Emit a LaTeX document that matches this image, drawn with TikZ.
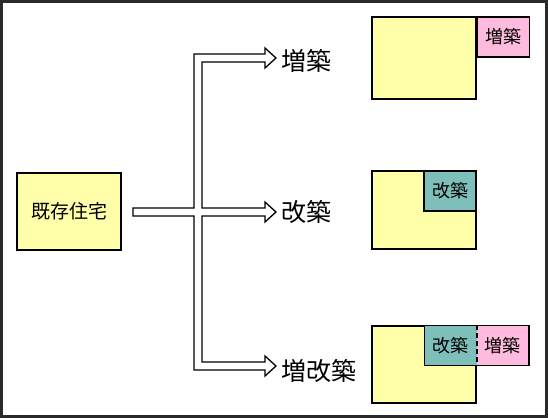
\documentclass[tikz,border=0pt]{standalone}
\usepackage{fontspec}
\setmainfont{Noto Sans CJK JP}
\usetikzlibrary{positioning}
\definecolor{baseYellow}{HTML}{FFFFAA}
\definecolor{extPink}{HTML}{FFBBDD}
\definecolor{renTeal}{HTML}{7FBFBA}
\definecolor{frameGray}{HTML}{2A2A2A}

\begin{document}
\begin{tikzpicture}[x=1pt, y=-1pt,
    boxStyle/.style={rectangle, draw, line width=1.5pt, inner sep=0pt},
    baseStyle/.style={boxStyle, fill=baseYellow, minimum width=104pt},
    partStyle/.style={rectangle, inner sep=0pt, minimum width=52pt, minimum height=40pt, font=\fontsize{18}{20}\selectfont},
    lblStyle/.style={anchor=west, inner sep=0pt, font=\fontsize{25}{28}\selectfont},
    arrowStyle/.style={draw, fill=white, line width=1.3pt, line join=miter}]

    \useasboundingbox (0,0) rectangle (548,418);
    \draw[frameGray, line width=3pt] (1.5,1.5) rectangle (546.5,416.5);

    \node[baseStyle, minimum height=77pt, font=\fontsize{19}{22}\selectfont] (house) at (69, 211.5) {既存住宅};

    \node[lblStyle] (lbl_1) at (281, 61)  {増築};
    \node[lblStyle] (lbl_2) at (281, 212) {改築};
    \node[lblStyle] (lbl_3) at (281, 371) {増改築};

    \node[baseStyle, minimum height=82pt] (base_1) at (424, 58) {};
    \node[partStyle, boxStyle, fill=extPink, anchor=north west] (ext_1) at (base_1.north east) {増築};

    \node[baseStyle, minimum height=78pt] (base_2) at (424, 210) {};
    \node[partStyle, boxStyle, fill=renTeal, anchor=north east] (ren_2) at (base_2.north east) {改築};

    \node[baseStyle, minimum height=77pt] (base_3) at (424, 364.5) {};
    \node[partStyle, fill=renTeal, anchor=north east] (ren_3) at (base_3.north east) {改築};
    \node[partStyle, fill=extPink, anchor=north west] (ext_3) at (ren_3.north east) {増築};
    \draw[line width=1.5pt] (ren_3.north west) rectangle (ext_3.south east);
    \draw[line width=1.5pt, dash pattern=on 5pt off 3pt] (ren_3.north east) -- (ren_3.south east);

    \draw[arrowStyle] (133, 208) -- (194, 208) -- (194, 54)
        -- (265, 54) -- (265, 48) -- (276, 58) -- (265, 68) -- (265, 62)
        -- (202, 62) -- (202, 208)
        -- (265, 208) -- (265, 202) -- (276, 212) -- (265, 222) -- (265, 216)
        -- (202, 216) -- (202, 362)
        -- (265, 362) -- (265, 356) -- (276, 366) -- (265, 376) -- (265, 370)
        -- (194, 370) -- (194, 216) -- (133, 216) -- cycle;
\end{tikzpicture}
\end{document}
